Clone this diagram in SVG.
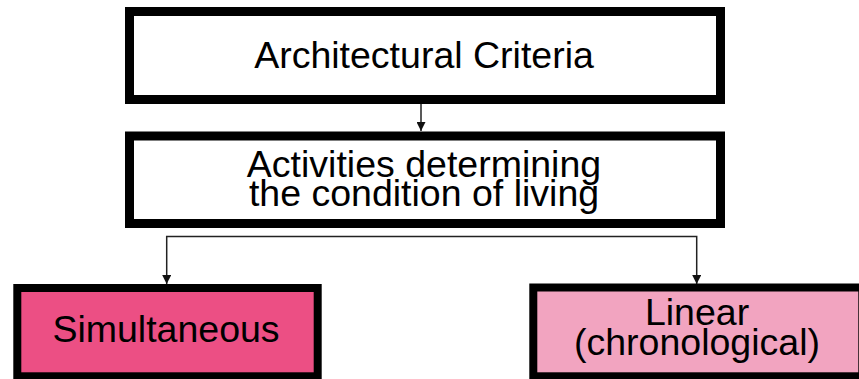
<svg xmlns="http://www.w3.org/2000/svg" width="859" height="379" viewBox="0 0 859 379">
  <style>
    .box { stroke: #000; }
    .plain { fill: #fff; stroke-width: 9; }
    .hot { fill: #ec4f84; stroke-width: 8; }
    .soft { fill: #f2a4c0; stroke-width: 8; }
    .label { font-family: "Liberation Sans", Arial, sans-serif; font-size: 37.5px; fill: #000; text-anchor: middle; }
    .link { fill: none; stroke: #222; stroke-width: 1.5; }
  </style>
  <defs>
    <marker id="arrow" markerUnits="userSpaceOnUse" markerWidth="9" markerHeight="9" refX="9" refY="4.5" orient="auto">
      <path d="M0,0 L9,4.5 L0,9 Z" fill="#111"/>
    </marker>
  </defs>

  <rect width="859" height="379" fill="#fff"/>

  <g id="connectors">
    <path class="link" d="M421,104 V131" marker-end="url(#arrow)"/>
    <path class="link" d="M432,236.5 H166.7 V284" marker-end="url(#arrow)"/>
    <path class="link" d="M432,236.5 H696.7 V284" marker-end="url(#arrow)"/>
  </g>

  <g id="architectural-criteria">
    <rect class="box plain" x="129.5" y="11.5" width="591" height="88"/>
    <text class="label" x="424" y="68">Architectural Criteria</text>
  </g>

  <g id="activities">
    <rect class="box plain" x="129.5" y="136" width="591" height="87.5"/>
    <text class="label" x="424" y="176.5">Activities determining</text>
    <text class="label" x="424" y="206">the condition of living</text>
  </g>

  <g id="simultaneous">
    <rect class="box hot" x="17.3" y="288" width="300.4" height="88.3"/>
    <text class="label" x="166" y="342">Simultaneous</text>
  </g>

  <g id="linear">
    <rect class="box soft" x="533.3" y="287.5" width="329" height="88.8"/>
    <text class="label" x="697" y="325">Linear</text>
    <text class="label" x="697" y="355">(chronological)</text>
  </g>
</svg>
